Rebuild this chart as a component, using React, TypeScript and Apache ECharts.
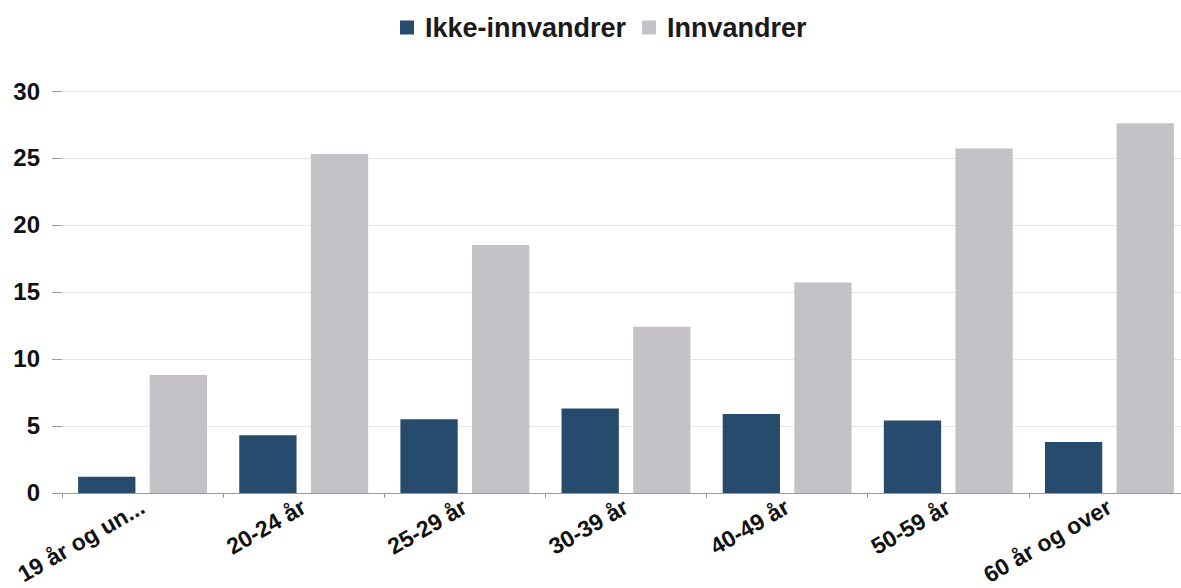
import React, { useEffect, useRef } from "react";
import * as echarts from "echarts";

const categories = ["19 år og un...", "20-24 år", "25-29 år", "30-39 år", "40-49 år", "50-59 år", "60 år og over"];
const ikkeInnvandrer = [1.2, 4.3, 5.5, 6.3, 5.9, 5.4, 3.8];
const innvandrer = [8.8, 25.3, 18.5, 12.4, 15.7, 25.7, 27.6];
const yTicks = [0, 5, 10, 15, 20, 25, 30];

export default function App() {
  const ref = useRef<HTMLDivElement>(null);
  useEffect(() => {
    if (!ref.current) return;
    const chart = echarts.init(ref.current, null, { renderer: "svg" });
    const font = "Liberation Sans, Arial, sans-serif";
    chart.setOption({
      animation: false,
      textStyle: { fontFamily: font },
      legend: {
        top: 9,
        left: 395,
        itemWidth: 14,
        itemHeight: 14,
        itemGap: 16,
        icon: "rect",
        textStyle: {
          fontSize: 27,
          fontWeight: "bold",
          color: "#1a1a1a",
          fontFamily: font,
          padding: [0, 0, 0, 6],
        },
        data: ["Ikke-innvandrer", "Innvandrer"],
      },
      grid: { left: 62, right: 0, top: 91, bottom: 94, containLabel: false },
      xAxis: {
        type: "category",
        data: categories,
        axisLine: { show: true, lineStyle: { color: "#999", width: 1 } },
        axisTick: { show: true, length: 5, lineStyle: { color: "#999" } },
        axisLabel: {
          rotate: 30,
          interval: 0,
          fontSize: 23,
          fontWeight: "bold",
          color: "#111",
          margin: 12,
          fontFamily: font,
        },
      },
      yAxis: {
        type: "value",
        min: yTicks[0],
        max: yTicks[yTicks.length - 1],
        interval: 5,
        axisLine: { show: false },
        axisTick: { show: true, length: 10, lineStyle: { color: "#999" } },
        axisLabel: { fontSize: 24, fontWeight: "bold", color: "#111", margin: 22, fontFamily: font },
        splitLine: { show: true, lineStyle: { color: "#e6e6e6", width: 1 } },
      },
      series: [
        {
          name: "Ikke-innvandrer",
          type: "bar",
          data: ikkeInnvandrer,
          itemStyle: { color: "#264b6c" },
          barGap: "25%",
          barCategoryGap: "20%",
        },
        {
          name: "Innvandrer",
          type: "bar",
          data: innvandrer,
          itemStyle: { color: "#c4c2c6" },
          barGap: "25%",
          barCategoryGap: "20%",
        },
      ],
    });
    return () => chart.dispose();
  }, []);
  return (
    <div
      ref={ref}
      style={{ position: "fixed", left: 0, top: 0, width: 1190, height: 588, background: "#fff" }}
    />
  );
}
